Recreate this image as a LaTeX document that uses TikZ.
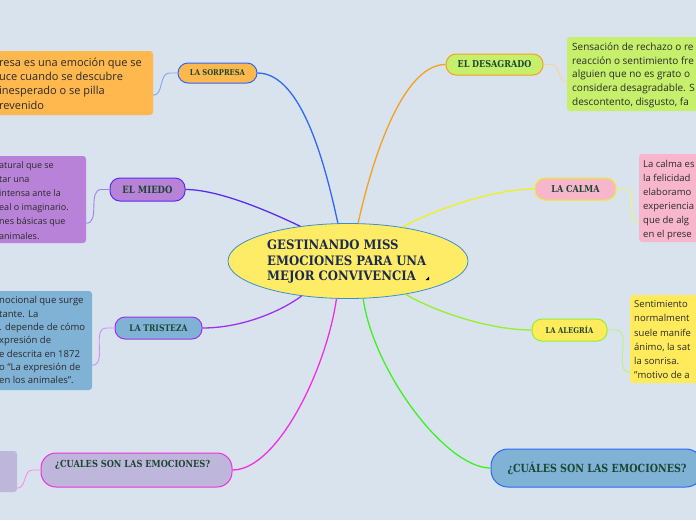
\documentclass[tikz,border=0pt]{standalone}
\usepackage{fontspec}
\setmainfont{Open Sans}
\newfontfamily\slab[FakeStretch=0.85]{DejaVu Serif}
\newfontfamily\slabw[FakeStretch=0.9]{DejaVu Serif}
\usetikzlibrary{shapes.geometric,calc}
\definecolor{bg}{HTML}{D8E3EE}
\definecolor{ttext}{HTML}{1B4632}
\definecolor{ctext}{HTML}{1C2A50}
\definecolor{dtext}{HTML}{2A2A2A}
\definecolor{cfill}{HTML}{FFEC66}
\definecolor{cborder}{HTML}{3D8FC8}
\definecolor{orangef}{HTML}{FFB84E}
\definecolor{greenf}{HTML}{C6EF6B}
\definecolor{purplef}{HTML}{B882D8}
\definecolor{pinkf}{HTML}{F7B6CB}
\definecolor{steelf}{HTML}{80B2D6}
\definecolor{yellowf}{HTML}{FFEB5B}
\definecolor{lavf}{HTML}{BFB7DB}
\definecolor{cBlue}{HTML}{2F68F5}
\definecolor{cOrange}{HTML}{F5A020}
\definecolor{cViolet}{HTML}{5A2CF0}
\definecolor{cYellow}{HTML}{EEF020}
\definecolor{cPurple}{HTML}{A030F0}
\definecolor{cLime}{HTML}{95F028}
\definecolor{cMagenta}{HTML}{F030E0}
\definecolor{cGreen}{HTML}{40F020}
\tikzset{
  topic/.style={draw, line width=1pt, rounded corners=10pt, inner sep=0pt, text=ttext, font=\slab\bfseries},
  desc/.style={rectangle, rounded corners=3pt, inner sep=0pt},
  dtxt/.style={anchor=north west, inner sep=0pt, align=left, text=dtext, font=\fontsize{9.5}{14.2}\selectfont},
  mainlink/.style={line width=1.3pt},
  sublink/.style={line width=0.9pt},
}
\begin{document}
\begin{tikzpicture}[x=1pt,y=-1pt]
\useasboundingbox (0,0) rectangle (696,520);
\clip (0,0) rectangle (696,520);
\fill[bg] (0,0) rectangle (696,520);

% description boxes
\node[desc, fill=orangef, minimum width=193pt, minimum height=64pt] (dSorpresa) at (56.5,83) {};
\node[desc, fill=purplef, minimum width=126pt, minimum height=87pt] (dMiedo) at (23,199.5) {};
\node[desc, fill=steelf, minimum width=132pt, minimum height=99pt] (dTristeza) at (26,340.5) {};
\node[desc, fill=lavf, minimum width=57pt, minimum height=41pt] (dLav) at (-11.5,471.5) {};
\node[desc, fill=greenf, minimum width=193pt, minimum height=74pt] (dDesagrado) at (663.5,74) {};
\node[desc, fill=pinkf, minimum width=121pt, minimum height=88pt] (dCalma) at (699.5,198) {};
\node[desc, fill=yellowf, minimum width=130pt, minimum height=88pt] (dAlegria) at (695,339) {};

\node[dtxt, font=\fontsize{11}{14.3}\selectfont] (tSorpresa) at (-1,57.5) {resa es una emoción que se\\uce cuando se descubre\\ inesperado o se pilla\\revenido};
\node[dtxt, font=\fontsize{9}{14.2}\selectfont] (tMiedo) at (-1,161) {atural que se\\tar una\\intensa ante la\\eal o imaginario.\\ nes básicas que\\animales.};
\node[dtxt, font=\fontsize{9.5}{13.3}\selectfont] (tTristeza) at (-1,296.5) {nocional que surge\\tante. La\\. depende de cómo\\xpresión de\\e descrita en 1872\\o “La expresión de\\ en los animales”.};
\node[dtxt, font=\fontsize{10}{13.75}\selectfont] (tDesagrado) at (572,42.5) {Sensación de rechazo o re\\reacción o sentimiento fre\\alguien que no es grato o\\considera desagradable. S\\descontento, disgusto, fa};
\node[dtxt, font=\fontsize{9.5}{14}\selectfont] (tCalma) at (643,160.5) {La calma es\\la felicidad\\elaboramo\\experiencia\\que de alg\\en el prese};
\node[dtxt] (tAlegria) at (634,300.5) {Sentimiento\\normalment\\suele manife\\ánimo, la sat\\la sonrisa.\\"motivo de a};

% central node
\node[ellipse, draw=cborder, line width=0.8pt, fill=cfill, minimum width=240pt, minimum height=75pt, inner sep=0pt] (center) at (348,261) {};
\node[anchor=west, inner sep=0pt, align=left, text=ctext, font=\slabw\bfseries\fontsize{13}{15.5}\selectfont] (centerText) at (267,262) {GESTINANDO MISS\\EMOCIONES PARA UNA\\MEJOR CONVIVENCIA};
\fill[black] (425.5,280) -- (429,280) -- (429,276.5) -- cycle;

% topics
\node[topic, fill=orangef, draw=cBlue, minimum width=79pt, minimum height=20pt, font=\slab\bfseries\fontsize{8}{9}\selectfont] (sorpresa) at (217.5,73) {LA SORPRESA};
\node[topic, fill=greenf, draw=cOrange, minimum width=97pt, minimum height=21pt, font=\slab\bfseries\fontsize{9.5}{10}\selectfont] (desagrado) at (494.5,64.5) {EL DESAGRADO};
\node[topic, fill=purplef, draw=cViolet, minimum width=75pt, minimum height=23pt, font=\slab\bfseries\fontsize{10}{11}\selectfont] (miedo) at (147.5,189.5) {EL MIEDO};
\node[topic, fill=pinkf, draw=cYellow, minimum width=81pt, minimum height=22pt, font=\slab\bfseries\fontsize{9.5}{10}\selectfont] (calma) at (575.5,189) {LA CALMA};
\node[topic, fill=steelf, draw=cPurple, minimum width=87pt, minimum height=22pt, font=\slab\bfseries\fontsize{9}{10}\selectfont] (tristeza) at (158.5,328) {LA TRISTEZA};
\node[topic, fill=yellowf, draw=cLime, minimum width=75pt, minimum height=22pt, font=\slab\bfseries\fontsize{8}{9}\selectfont] (alegria) at (569.5,330) {LA ALEGRÍA};
\node[topic, fill=lavf, draw=cMagenta, rounded corners=15pt, minimum width=191pt, minimum height=34pt] (cualesL) at (136.5,470) {};
\node[anchor=west, inner sep=0pt, text=ttext, font=\slab\bfseries\fontsize{9.7}{12}\selectfont] (cualesLText) at (55,465) {¿CUALES SON LAS EMOCIONES?};
\node[topic, fill=steelf, draw=cBlue, rounded corners=17pt, minimum width=212pt, minimum height=38pt, font=\slab\bfseries\fontsize{11.2}{13}\selectfont] (cualesR) at (597,468) {¿CUÁLES SON LAS EMOCIONES?};

% main links
\draw[mainlink, cBlue] (sorpresa.east) .. controls +(45,0) and +(-12,-55) .. (center.105);
\draw[mainlink, cOrange] (desagrado.west) .. controls +(-45,0) and +(12,-55) .. (center.75);
\draw[mainlink, cViolet] (miedo.east) .. controls +(35,0) and +(-25,-12) .. (center.144);
\draw[mainlink, cYellow] (calma.west) .. controls +(-45,0) and +(25,-14) .. (center.32);
\draw[mainlink, cPurple] (tristeza.east) .. controls +(40,0) and +(-20,15) .. (center.217);
\draw[mainlink, cLime] (alegria.west) .. controls +(-45,0) and +(25,15) .. (center.330);
\draw[mainlink, cMagenta] (cualesL.east) .. controls +(45,0) and +(-10,70) .. (center.253);
\draw[mainlink, cGreen] (cualesR.west) .. controls +(-45,0) and +(10,72) .. (center.292);

% sub links
\draw[sublink, cBlue!60] (sorpresa.west) -- ++(-8,0) to[out=180,in=0] ([yshift=20pt]dSorpresa.south east);
\draw[sublink, cViolet!60] (miedo.west) -- ++(-8,0) to[out=180,in=0] ([yshift=20pt]dMiedo.south east);
\draw[sublink, cPurple!55] (tristeza.west) -- ++(-8,0) to[out=180,in=0] ([yshift=25pt]dTristeza.south east);
\draw[sublink, cMagenta!55] (cualesL.west) -- ++(-8,0) to[out=180,in=0] ([yshift=4pt]dLav.south east);
\draw[sublink, cOrange!45] (desagrado.east) -- ++(8,0) to[out=0,in=180] ([yshift=29pt]dDesagrado.south west);
\draw[sublink, cYellow!70] (calma.east) -- ++(8,0) to[out=0,in=180] ([yshift=20pt]dCalma.south west);
\draw[sublink, cLime!65] (alegria.east) -- ++(8,0) to[out=0,in=180] ([yshift=11pt]dAlegria.south west);
\end{tikzpicture}
\end{document}
